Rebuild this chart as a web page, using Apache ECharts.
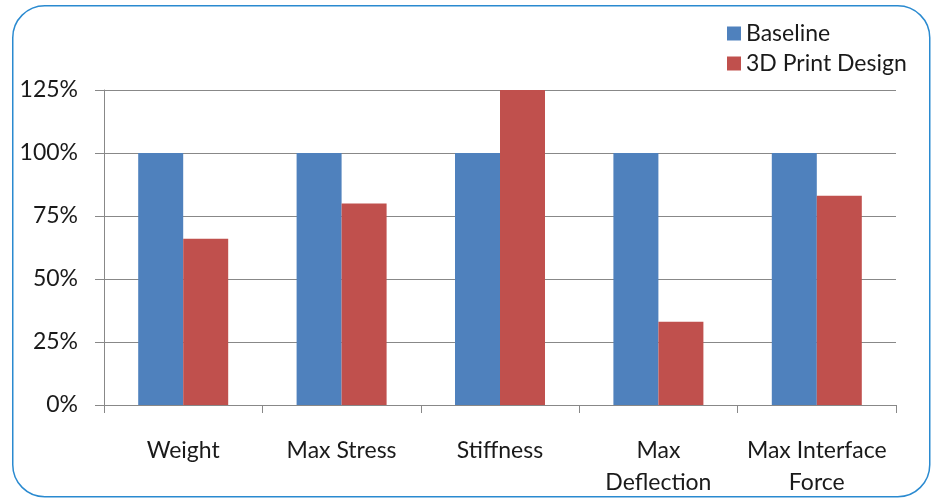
<!DOCTYPE html>
<html><head><meta charset="utf-8">
<script src="https://cdn.jsdelivr.net/npm/echarts@6/dist/echarts.min.js"></script>
<style>html,body{margin:0;padding:0;background:#fff}#c{width:935px;height:499px}</style>
</head><body><div id="c"></div>
<script>
const categories = ['Weight', 'Max Stress', 'Stiffness', 'Max\nDeflection', 'Max Interface\nForce'];
const baseline = [100, 100, 100, 100, 100];
const printDesign = [66, 80, 125, 33, 83];
const yTicks = [0, 25, 50, 75, 100, 125];

const FONT = 'Lato';
const chart = echarts.init(document.getElementById('c'), null, {renderer: 'canvas'});
chart.setOption({
  animation: false,
  textStyle: {fontFamily: FONT},
  graphic: [{
    type: 'rect', left: 12, top: 5, z: -1,
    shape: {width: 917, height: 491, r: 32},
    style: {fill: '#fff', stroke: '#2a8ad0', lineWidth: 1.5}
  }],
  legend: {
    orient: 'vertical', left: 722, top: 17, itemWidth: 14, itemHeight: 14, itemGap: 7,
    icon: 'rect',
    textStyle: {fontFamily: FONT, fontSize: 23, color: '#1a1a1a'},
    data: ['Baseline', '3D Print Design']
  },
  grid: {left: 104, right: 39, top: 90, bottom: 92, containLabel: false},
  xAxis: {
    type: 'category', data: categories,
    axisLine: {lineStyle: {color: '#888', width: 1}},
    axisTick: {show: true, length: 8, lineStyle: {color: '#888'}, alignWithLabel: false},
    axisLabel: {fontFamily: FONT, fontSize: 23, color: '#1a1a1a', margin: 30, lineHeight: 32, interval: 0}
  },
  yAxis: {
    type: 'value', min: 0, max: 125, interval: 25,
    axisLine: {show: true, lineStyle: {color: '#888', width: 1}},
    axisTick: {show: true, length: 9, lineStyle: {color: '#888'}},
    splitLine: {show: true, lineStyle: {color: '#888', width: 1}},
    axisLabel: {fontFamily: FONT, fontSize: 23, color: '#1a1a1a', margin: 26,
      formatter: v => yTicks.includes(v) ? v + '%' : ''}
  },
  series: [
    {name: 'Baseline', type: 'bar', data: baseline, barWidth: 45, barGap: '0%',
     itemStyle: {color: '#4f81bd'}},
    {name: '3D Print Design', type: 'bar', data: printDesign, barWidth: 45, barGap: '0%',
     itemStyle: {color: '#c0504d'}}
  ]
});
</script></body></html>
